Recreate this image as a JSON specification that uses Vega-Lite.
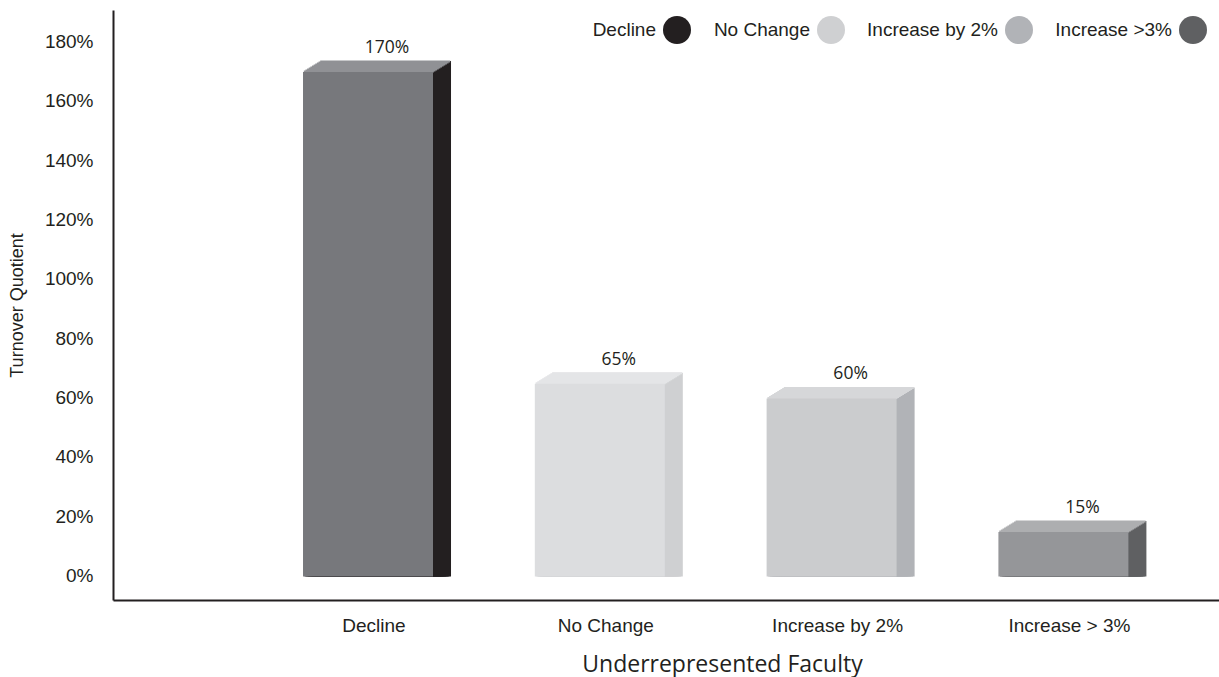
{
  "$schema": "https://vega.github.io/schema/vega-lite/v6.json",
  "width": 1106,
  "height": 590,
  "autosize": {"type": "none"},
  "padding": {"left": 113, "top": 10, "right": 0, "bottom": 77},
  "background": "white",
  "config": {"view": {"stroke": null}, "font": "Liberation Sans"},
  "data": {"values": [
    {"category": "Decline", "value": 1.70},
    {"category": "No Change", "value": 0.65},
    {"category": "Increase by 2%", "value": 0.60},
    {"category": "Increase > 3%", "value": 0.15}
  ]},
  "encoding": {
    "x": {"field": "category", "type": "nominal", "sort": null,
      "scale": {"paddingInner": 0, "paddingOuter": 0.3857, "align": 0.778},
      "axis": {"title": "Underrepresented Faculty", "labelAngle": 0, "ticks": false,
        "domainColor": "#231f20", "domainWidth": 2, "labelFont": "Liberation Sans", "labelFontSize": 19,
        "labelColor": "#231f20", "labelPadding": 16, "labelOffset": 6,
        "titleFont": "Open Sans", "titleFontSize": 23, "titleFontWeight": "normal", "titleColor": "#231f20",
        "titleX": 609, "titleY": 71, "titleAlign": "center", "titleBaseline": "alphabetic"}},
    "y": {"field": "value", "type": "quantitative",
      "scale": {"domain": [-0.079, 1.909], "nice": false, "zero": false},
      "axis": {"title": "Turnover Quotient", "format": ".0%", "values": [0, 0.2, 0.4, 0.6, 0.8, 1.0, 1.2, 1.4, 1.6, 1.8],
        "grid": false, "ticks": false, "domainColor": "#231f20", "domainWidth": 2,
        "labelFont": "Liberation Sans", "labelFontSize": 19, "labelColor": "#231f20", "labelPadding": 20, "labelOffset": -1,
        "titleFont": "Liberation Sans", "titleFontSize": 18, "titleFontWeight": "normal", "titleColor": "#231f20", "titlePadding": 18}}
  },
  "layer": [
    {
      "encoding": {
        "y2": {"datum": 0},
        "color": {"field": "category", "type": "nominal", "sort": null,
          "scale": {"domain": ["Decline", "No Change", "Increase by 2%", "Increase > 3%"], "range": ["#231f20", "#cfd0d2", "#b1b3b7", "#5f6062"]},
          "legend": {"orient": "none", "direction": "horizontal", "legendX": 550, "legendY": 6, "title": null,
            "symbolType": "circle", "symbolSize": 784, "symbolStrokeWidth": 0, "symbolOpacity": 1,
            "labelFont": "Liberation Sans", "labelFontSize": 19, "labelColor": "#231f20", "labelAlign": "right", "labelOffset": -35, "labelLimit": 300,
            "columnPadding": 22,
            "labelExpr": "datum.label === 'Increase > 3%' ? 'Increase >3%' : datum.label"}}
      },
      "layer": [
        {"mark": {"type": "bar", "width": 130, "opacity": 1, "xOffset": 1.64, "yOffset": -1}},
        {"mark": {"type": "bar", "width": 130, "opacity": 1, "xOffset": 3.27, "yOffset": -2}},
        {"mark": {"type": "bar", "width": 130, "opacity": 1, "xOffset": 4.91, "yOffset": -3}},
        {"mark": {"type": "bar", "width": 130, "opacity": 1, "xOffset": 6.55, "yOffset": -4}},
        {"mark": {"type": "bar", "width": 130, "opacity": 1, "xOffset": 8.18, "yOffset": -5}},
        {"mark": {"type": "bar", "width": 130, "opacity": 1, "xOffset": 9.82, "yOffset": -6}},
        {"mark": {"type": "bar", "width": 130, "opacity": 1, "xOffset": 11.45, "yOffset": -7}},
        {"mark": {"type": "bar", "width": 130, "opacity": 1, "xOffset": 13.09, "yOffset": -8}},
        {"mark": {"type": "bar", "width": 130, "opacity": 1, "xOffset": 14.73, "yOffset": -9}},
        {"mark": {"type": "bar", "width": 130, "opacity": 1, "xOffset": 16.36, "yOffset": -10}},
        {"mark": {"type": "bar", "width": 130, "opacity": 1, "xOffset": 18, "yOffset": -11}}
      ]
    },
    {
      "encoding": {
        "color": {"field": "category", "type": "nominal", "sort": null,
          "scale": {"domain": ["Decline", "No Change", "Increase by 2%", "Increase > 3%"], "range": ["#909195", "#e4e5e7", "#d6d7d9", "#adaeb0"]},
          "legend": null}
      },
      "layer": [
        {"mark": {"type": "tick", "size": 130, "thickness": 2, "opacity": 1, "xOffset": 0.82, "yOffset": -0.5}},
        {"mark": {"type": "tick", "size": 130, "thickness": 2, "opacity": 1, "xOffset": 2.45, "yOffset": -1.5}},
        {"mark": {"type": "tick", "size": 130, "thickness": 2, "opacity": 1, "xOffset": 4.09, "yOffset": -2.5}},
        {"mark": {"type": "tick", "size": 130, "thickness": 2, "opacity": 1, "xOffset": 5.73, "yOffset": -3.5}},
        {"mark": {"type": "tick", "size": 130, "thickness": 2, "opacity": 1, "xOffset": 7.36, "yOffset": -4.5}},
        {"mark": {"type": "tick", "size": 130, "thickness": 2, "opacity": 1, "xOffset": 9.0, "yOffset": -5.5}},
        {"mark": {"type": "tick", "size": 130, "thickness": 2, "opacity": 1, "xOffset": 10.64, "yOffset": -6.5}},
        {"mark": {"type": "tick", "size": 130, "thickness": 2, "opacity": 1, "xOffset": 12.27, "yOffset": -7.5}},
        {"mark": {"type": "tick", "size": 130, "thickness": 2, "opacity": 1, "xOffset": 13.91, "yOffset": -8.5}},
        {"mark": {"type": "tick", "size": 130, "thickness": 2, "opacity": 1, "xOffset": 15.55, "yOffset": -9.5}},
        {"mark": {"type": "tick", "size": 130, "thickness": 2, "opacity": 1, "xOffset": 17.18, "yOffset": -10.5}}
      ]
    },
    {
      "mark": {"type": "bar", "width": 130, "opacity": 1},
      "encoding": {
        "y2": {"datum": 0},
        "color": {"field": "category", "type": "nominal", "sort": null,
          "scale": {"domain": ["Decline", "No Change", "Increase by 2%", "Increase > 3%"], "range": ["#77787c", "#dcdddf", "#cbccce", "#959699"]},
          "legend": null}
      }
    },
    {
      "mark": {"type": "text", "dx": 19, "dy": -19, "baseline": "alphabetic", "font": "Open Sans", "fontSize": 17.5, "color": "#231f20"},
      "encoding": {
        "text": {"field": "value", "type": "quantitative", "format": ".0%"}
      }
    }
  ],
  "resolve": {"scale": {"color": "independent"}}
}
